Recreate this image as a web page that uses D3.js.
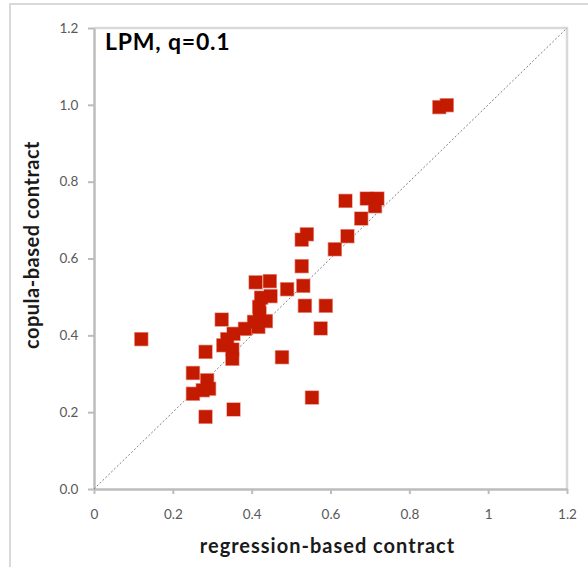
<!DOCTYPE html>
<html>
<head>
<meta charset="utf-8">
<script src="https://cdn.jsdelivr.net/npm/d3@7"></script>
<style>
  html, body { margin: 0; padding: 0; background: #fff; }
  svg text { font-family: Lato, "Open Sans", sans-serif; }
</style>
</head>
<body>
<div id="chart"></div>
<script>
// regression-based (x) vs copula-based (y) contract values
const regression = [0.12, 0.876, 0.895, 0.638, 0.692, 0.719, 0.713, 0.678, 0.643, 0.611,
  0.540, 0.527, 0.527, 0.531, 0.490, 0.535, 0.588, 0.575, 0.477, 0.553,
  0.410, 0.446, 0.448, 0.424, 0.419, 0.420, 0.436, 0.406, 0.417, 0.383,
  0.324, 0.354, 0.338, 0.328, 0.351, 0.351, 0.283, 0.251, 0.287, 0.292,
  0.251, 0.276, 0.354, 0.283];
const copula = [0.390, 0.994, 0.999, 0.750, 0.756, 0.756, 0.736, 0.704, 0.658, 0.624,
  0.663, 0.649, 0.580, 0.529, 0.520, 0.477, 0.477, 0.418, 0.343, 0.238,
  0.538, 0.541, 0.502, 0.498, 0.474, 0.457, 0.437, 0.435, 0.422, 0.417,
  0.441, 0.404, 0.390, 0.374, 0.363, 0.339, 0.357, 0.302, 0.283, 0.261,
  0.248, 0.257, 0.207, 0.188];
const xTicks = [0, 0.2, 0.4, 0.6, 0.8, 1, 1.2];
const yTicks = [0, 0.2, 0.4, 0.6, 0.8, 1.0, 1.2];

const W = 588, H = 567;
const M = { left: 94, top: 28, right: 21, bottom: 78 };
const iW = W - M.left - M.right, iH = H - M.top - M.bottom;

const svg = d3.select("#chart").append("svg").attr("width", W).attr("height", H);

// outer chart frame (runs off the right and bottom edges)
svg.append("rect").attr("x", 10).attr("y", 4).attr("width", W + 20).attr("height", H + 20)
  .attr("fill", "none").attr("stroke", "#d9d9d9").attr("stroke-width", 2);

const g = svg.append("g").attr("transform", `translate(${M.left},${M.top})`);
const x = d3.scaleLinear().domain([0, 1.2]).range([0, iW]);
const y = d3.scaleLinear().domain([0, 1.2]).range([iH, 0]);

// plot box top/right
g.append("path").attr("d", `M0,0H${iW}V${iH}`).attr("fill", "none")
  .attr("stroke", "#d9d9d9").attr("stroke-width", 2.5);

// axes
const ax = g.append("g").attr("transform", `translate(0,${iH})`)
  .call(d3.axisBottom(x).tickValues(xTicks).tickFormat(d3.format("")).tickSize(5).tickSizeOuter(0));
const ay = g.append("g")
  .call(d3.axisLeft(y).tickValues(yTicks).tickFormat(d3.format(".1f")).tickSize(6).tickSizeOuter(0));
[ax, ay].forEach(a => {
  a.select(".domain").attr("stroke", "#bcbcbc").attr("stroke-width", 2.5);
  a.selectAll(".tick line").attr("stroke", "#bcbcbc").attr("stroke-width", 2);
  a.selectAll(".tick text").attr("fill", "#595959").attr("font-size", "13.5px")
    .style("font-family", "Lato, 'Open Sans', sans-serif");
});
ax.selectAll(".tick text").attr("dy", "1.6em");
ay.selectAll(".tick text").attr("dx", "-0.5em");

// 45-degree reference line
g.append("line").attr("x1", x(0)).attr("y1", y(0)).attr("x2", x(1.2)).attr("y2", y(1.2))
  .attr("stroke", "#808080").attr("stroke-width", 1).attr("stroke-dasharray", "2,2");

// points: light halo layer first, solid fills on top so overlaps merge
const pts = regression.map((v, i) => ({ x: v, y: copula[i] }));
const S = 13;
g.append("g").selectAll("rect").data(pts).join("rect")
  .attr("x", d => x(d.x) - S / 2 - 0.7).attr("y", d => y(d.y) - S / 2 - 0.7)
  .attr("width", S + 1.4).attr("height", S + 1.4)
  .attr("fill", "#ec9d93");
g.append("g").selectAll("rect").data(pts).join("rect")
  .attr("x", d => x(d.x) - S / 2).attr("y", d => y(d.y) - S / 2)
  .attr("width", S).attr("height", S)
  .attr("fill", "#c41a00");

// labels
g.append("text").attr("x", 11).attr("y", 22).attr("font-size", "23px")
  .attr("letter-spacing", "0.8px")
  .attr("font-weight", "bold").attr("fill", "#000").text("LPM, q=0.1");
svg.append("text").attr("x", M.left + iW / 2 - 3).attr("y", 553).attr("text-anchor", "middle")
  .attr("font-size", "20px").attr("letter-spacing", "1px").attr("font-weight", "bold")
  .attr("fill", "#1a1a1a").text("regression-based contract");
svg.append("text").attr("transform", `translate(39,245) rotate(-90)`)
  .attr("text-anchor", "middle").attr("font-size", "20px").attr("letter-spacing", "0.5px")
  .attr("font-weight", "bold").attr("fill", "#1a1a1a").text("copula-based contract");
</script>
</body>
</html>
